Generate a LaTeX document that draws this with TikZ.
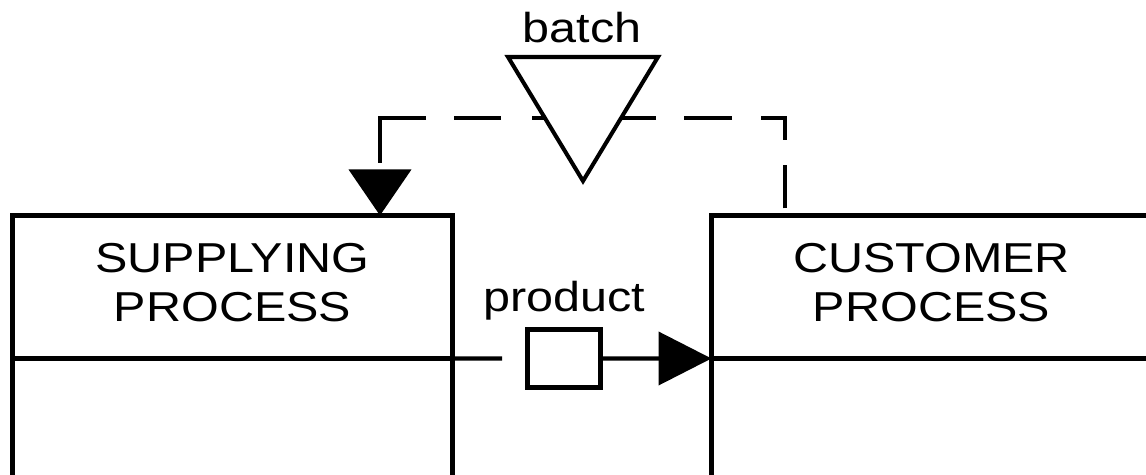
\documentclass[tikz,border=0pt]{standalone}
\usepackage{fontspec}
\setmainfont{Liberation Sans}[FakeStretch=1.16]
\usetikzlibrary{shapes.geometric,arrows.meta,positioning}

\begin{document}
\begin{tikzpicture}[
    prochead/.style={draw, line width=2.3pt, outer sep=0pt, minimum width=8.8cm, minimum height=2.86cm, align=center, text depth=0.18cm, font=\fontsize{23.8}{27.9}\selectfont},
    procbody/.style={draw, line width=2.3pt, outer sep=0pt, minimum width=8.8cm, minimum height=3.2cm},
    lbl/.style={font=\fontsize{23.8}{27.9}\selectfont, anchor=base, inner sep=0pt},
    stock/.style={draw, line width=2.3pt, fill=white, isosceles triangle, isosceles triangle stretches, shape border rotate=270, minimum width=3cm, minimum height=2.48cm, outer sep=0pt, inner sep=0pt},
    item/.style={draw, line width=2.3pt, fill=white, minimum width=1.46cm, minimum height=1.16cm, outer sep=0pt, inner sep=0pt},
    flow/.style={line width=2.3pt},
    ctrl/.style={line width=2.3pt, shorten <=0.14cm, dash pattern=on .87cm off .5cm on .92cm off .58cm on .96cm off .56cm on .94cm off .58cm on .96cm off .62cm on .94cm off .56cm on 1.82cm off .4cm, -{Triangle[length=0.92cm, width=1.24cm]}}
  ]
    \path[use as bounding box, clip] (0, 0) rectangle (22.92, 9.5);

    \node[prochead] (sup) at (4.65, 3.76) {SUPPLYING\\PROCESS};
    \node[procbody, below=0pt of sup] (supbody) {};
    \node[prochead, right=5.18cm of sup] (cust) {CUSTOMER\\PROCESS};
    \node[procbody, below=0pt of cust] (custbody) {};

    \node[item] (prod) at (11.28, 2.33) {};
    \node[lbl] (prodlbl) at (11.28, 3.26) {product};
    \coordinate (prodin) at (10.04, 2.33);

    \draw[ctrl] ([xshift=1.47cm]cust.north west) -- ++(0, 1.95) -| ([xshift=7.35cm]sup.north west);
    \node[stock, anchor=apex] (batch) at (11.66, 5.88) {};
    \node[lbl] (batchlbl) at (11.64, 8.64) {batch};

    \draw[flow] (sup.south east) -- (prodin);
    \draw[flow, -{Triangle[length=1.06cm, width=1.06cm]}] (prod) -- (cust.south west);
  \end{tikzpicture}
\end{document}
